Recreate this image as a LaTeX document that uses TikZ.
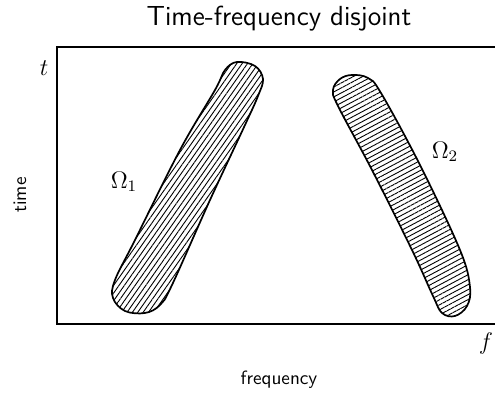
\documentclass[tikz,border=0pt]{standalone}
\usepackage{amsmath,amssymb}
\usepackage{xcolor}
\usetikzlibrary{patterns.meta}

\tikzset{
  region/.style={draw=black, line width=0.85pt},
  axislbl/.style={font=\sffamily\fontsize{9.6}{11}\selectfont},
  mathlbl/.style={font=\large}
}

\begin{document}
\begin{tikzpicture}[x=0.5pt, y=-0.5pt]
  \useasboundingbox (0,0) rectangle (495,394);
  \clip (0,0) rectangle (495,394);
  % frame, open to the right
  \coordinate (tl) at (57,47);
  \coordinate (bl) at (57,324);
  \draw[line width=1pt] (510,47) -- (tl) -- (bl) -- (510,324);
  % hatched regions
  \draw[region, pattern={Lines[angle=55,distance=2.2pt,line width=0.45pt]}]
    plot[smooth cycle, tension=0.6] coordinates {(237,62) (255,66) (263,79)
      (258,96) (245,125) (210,200) (172,285) (160,305) (145,313) (125,311)
      (113,298) (115,280) (135,240) (180,150) (215,90) (225,70)};
  \draw[region, pattern={Lines[angle=28,distance=2.2pt,line width=0.45pt]}]
    plot[smooth cycle, tension=0.6] coordinates {(340,79) (352,75) (368,78)
      (381,93) (420,165) (460,250) (470,287) (467,306) (455,316) (442,313)
      (433,296) (412,250) (372,170) (338,106) (333,90)};
  % labels
  \node[font=\sffamily\fontsize{13.8}{16}\selectfont] (title) at (279,19) {Time-frequency disjoint};
  \node[axislbl, rotate=90] (ylab) at (20,195) {time};
  \node[axislbl] (xlab) at (279,380) {frequency};
  \node[mathlbl] (tlab) at (44,68) {$t$};
  \node[mathlbl] (flab) at (486,344) {$f$};
  \node[mathlbl] (om1) at (124,182) {$\Omega_1$};
  \node[mathlbl] (om2) at (445,152) {$\Omega_2$};
\end{tikzpicture}
\end{document}
